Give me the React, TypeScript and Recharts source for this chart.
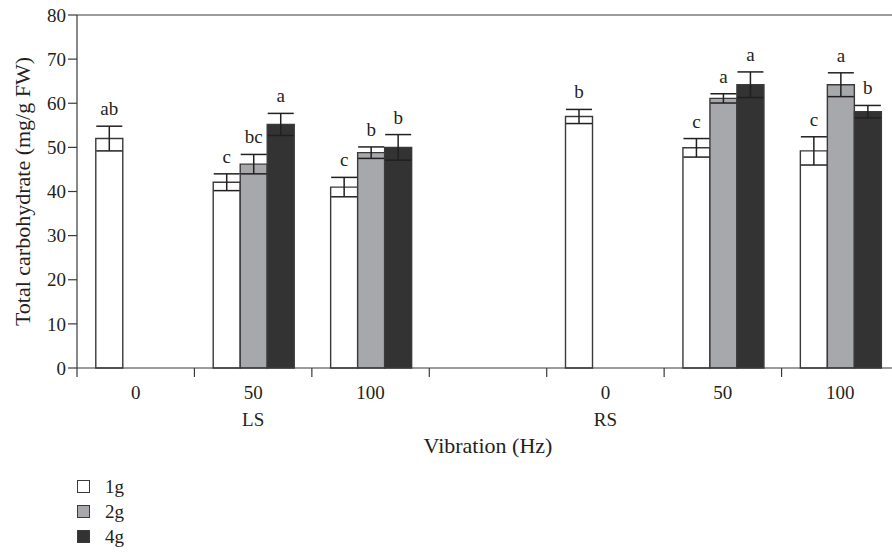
import { BarChart, Bar, XAxis, YAxis, ErrorBar, LabelList, Legend, ReferenceLine } from 'recharts'

const categories = ['LS-0', 'LS-50', 'LS-100', 'gap', 'RS-0', 'RS-50', 'RS-100']
const hzLabels = ['0', '50', '100', '', '0', '50', '100']
const groupLabels = ['', 'LS', '', '', 'RS', '', '']
const yTicks = [0, 10, 20, 30, 40, 50, 60, 70, 80]

const g1 = [52, 42.1, 41.0, null, 57.0, 49.9, 49.2]
const g1Err = [2.8, 1.9, 2.2, null, 1.6, 2.1, 3.2]
const g1Letters = ['ab', 'c', 'c', '', 'b', 'c', 'c']

const g2 = [null, 46.2, 48.8, null, null, 61.1, 64.2]
const g2Err = [null, 2.2, 1.3, null, null, 1.05, 2.7]
const g2Letters = ['', 'bc', 'b', '', '', 'a', 'a']

const g4 = [null, 55.2, 50.0, null, null, 64.2, 58.1]
const g4Err = [null, 2.5, 2.9, null, null, 2.9, 1.4]
const g4Letters = ['', 'a', 'b', '', '', 'a', 'b']

const data = categories.map((key, i) => ({
  key,
  g1: g1[i], g1e: g1Err[i], g1l: g1Letters[i],
  g2: g2[i], g2e: g2Err[i], g2l: g2Letters[i],
  g4: g4[i], g4e: g4Err[i], g4l: g4Letters[i],
}))

const ink = '#231f20'
const line = '#3a3a3a'
const font = '"Liberation Serif", "Times New Roman", serif'
const fs = 19
const titleFs = 22

const series = [
  { key: 'g1', name: '1g', fill: '#ffffff' },
  { key: 'g2', name: '2g', fill: '#a7a8ab' },
  { key: 'g4', name: '4g', fill: '#333333' },
]

// label value carries "letter|mean|err" so the error top can be found through the bar's own scale
const letterKey = (k: string) => (d: any) => (d[`${k}l`] ? `${d[`${k}l`]}|${d[k]}|${d[`${k}e`]}` : null)

const LetterLabel = (props: any) => {
  const { x, y, width, height, value } = props
  if (!value || !height) return null
  const [letter, mean, err] = String(value).split('|')
  const errPx = (height / Number(mean)) * Number(err)
  return (
    <text x={x + width / 2} y={y - errPx - 11} textAnchor="middle" fill={ink} fontSize={fs} fontFamily={font}>
      {letter}
    </text>
  )
}

const XTick = (props: any) => {
  const { x, y, payload, index } = props
  const half = payload.offset ?? 58.7
  const i = index ?? categories.indexOf(payload.value)
  return (
    <g>
      <line x1={x - half} x2={x - half} y1={y - 9} y2={y} stroke={line} strokeWidth={1.2} />
      <text x={x} y={y + 22} textAnchor="middle" fill={ink} fontSize={fs} fontFamily={font}>
        {hzLabels[i]}
      </text>
      <text x={x} y={y + 49} textAnchor="middle" fill={ink} fontSize={fs} fontFamily={font}>
        {groupLabels[i]}
      </text>
    </g>
  )
}

const renderLegend = () => (
  <div style={{ fontFamily: font, fontSize: fs, color: ink }}>
    {series.map((s) => (
      <div key={s.key} style={{ display: 'flex', alignItems: 'center', height: 25 }}>
        <span style={{ width: 11, height: 11, background: s.fill, border: `1px solid ${line}`, display: 'inline-block', marginRight: 15 }} />
        <span>{s.name}</span>
      </div>
    ))}
  </div>
)

export default function App() {
  return (
    <div style={{ position: 'absolute', left: 0, top: 0, width: 892, height: 553, overflow: 'hidden', background: '#fff' }}>
      <BarChart
        width={930}
        height={553}
        data={data}
        margin={{ top: 15, right: 31, left: 0, bottom: 0 }}
        barCategoryGap="16%"
        barGap={0}
      >
        <XAxis
          dataKey="key"
          height={185}
          axisLine={{ stroke: line, strokeWidth: 1.2 }}
          tickLine={false}
          tickSize={9}
          tickMargin={0}
          interval={0}
          tick={<XTick />}
          label={{ value: 'Vibration (Hz)', position: 'insideTop', offset: 69, fill: ink, fontSize: titleFs, fontFamily: font }}
        />
        <YAxis
          width={77}
          domain={[0, 80]}
          ticks={yTicks}
          interval={0}
          axisLine={{ stroke: line, strokeWidth: 1.2 }}
          tickLine={{ stroke: line, strokeWidth: 1.2 }}
          tickSize={9}
          tickMargin={2}
          tick={{ fill: ink, fontSize: fs, fontFamily: font }}
          label={{ value: 'Total carbohydrate (mg/g FW)', angle: -90, position: 'insideLeft', offset: 22, style: { textAnchor: 'middle' }, fill: ink, fontSize: titleFs, fontFamily: font }}
        />
        <ReferenceLine y={80} stroke={line} strokeWidth={1.2} />
        {series.map((s) => (
          <Bar key={s.key} dataKey={s.key} name={s.name} fill={s.fill} stroke={line} strokeWidth={1.4} isAnimationActive={false}>
            <ErrorBar dataKey={`${s.key}e`} width={13} stroke={ink} strokeWidth={1.5} direction="y" />
            <LabelList dataKey={letterKey(s.key)} content={<LetterLabel />} />
          </Bar>
        ))}
        <Legend
          layout="vertical"
          align="center"
          verticalAlign="middle"
          wrapperStyle={{ top: 474, left: 77, width: 120 }}
          content={renderLegend}
        />
      </BarChart>
    </div>
  )
}
